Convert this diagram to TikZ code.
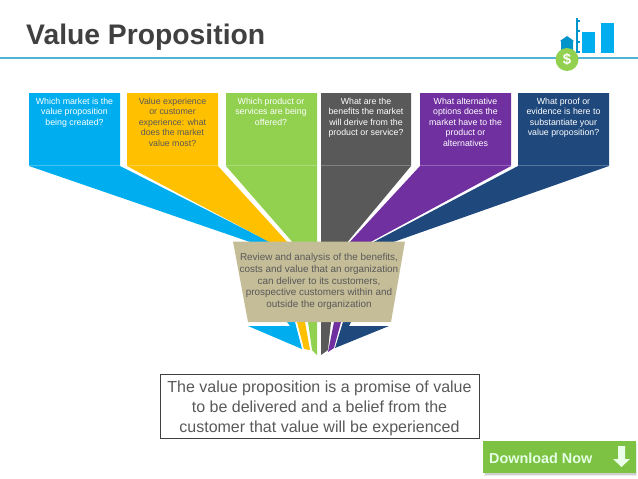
\documentclass[tikz,border=0pt]{standalone}
\usepackage{fontspec}
\setmainfont{Liberation Sans}
\definecolor{cblue}{HTML}{00AEEF}
\definecolor{corange}{HTML}{FFC000}
\definecolor{cgreen}{HTML}{92D050}
\definecolor{cgray}{HTML}{595959}
\definecolor{cpurple}{HTML}{7030A0}
\definecolor{cnavy}{HTML}{1F497D}
\definecolor{cbeige}{HTML}{C4BD97}
\definecolor{cdark}{HTML}{404040}
\definecolor{crule}{HTML}{4FB3D3}
\definecolor{cbtn}{HTML}{7DC242}
\tikzset{
  qtext/.style={anchor=north,inner sep=0pt,align=center,font=\fontsize{8.8}{10.6}\selectfont},
  ltext/.style={qtext,text=white},
  dtext/.style={qtext,text=cgray},
  seam/.style={white,opacity=0.25,line width=0.4pt}
}
\begin{document}
\begin{tikzpicture}[x=1pt,y=-1pt]
\useasboundingbox (0,0) rectangle (638,479);
% title
\node[anchor=base west,inner sep=0pt,text=cdark,font=\fontsize{28.3}{30}\selectfont\bfseries] (title) at (26,45) {Value Proposition};
\draw[crule,line width=1.2pt] (0,58) -- (638,58);
% icon
\fill[cblue] (582,32) rectangle (595,53);
\fill[cblue] (601,23) rectangle (614,53);
\draw[cblue!85!black,line width=1.1pt] (577,18) -- (577,53);
\foreach \yy in {21,31,42,52} \draw[cblue!85!black,line width=1.1pt] (577,\yy) -- (580,\yy);
\fill[cblue!85!black] (560,41) -- (567,36) -- (574,41) -- (573,41) -- (573,52) -- (561,52) -- (561,41) -- cycle;
\node[circle,fill=cgreen,minimum size=23pt,inner sep=0pt,text=white,font=\fontsize{15}{15}\selectfont\bfseries] (coin) at (567,59.5) {\$};
% top boxes with tails
\fill[cblue] (29,93) -- (120,93) -- (120,166) -- (270,242) -- (250,242) -- (29,166) -- cycle;
\fill[corange] (127,93) -- (218,93) -- (218,166) -- (290,245) -- (275,245) -- (127,166) -- cycle;
\fill[cgreen] (226,93) -- (317,93) -- (317,245) -- (295,245) -- (226,166) -- cycle;
\fill[cgray] (321,93) -- (411,93) -- (411,166) -- (345,245) -- (321,245) -- cycle;
\fill[cpurple] (420,93) -- (511,93) -- (511,166) -- (365,245) -- (347,245) -- (420,166) -- cycle;
\fill[cnavy] (518,93) -- (609,93) -- (609,166) -- (385,245) -- (368,245) -- (518,166) -- cycle;
\foreach \xa/\xb in {29/120,127/218,226/317,321/411,420/511,518/609}
  \draw[seam] (\xa,165.5) -- (\xb,165.5);
% lower tips
\fill[cblue] (248,326) -- (290,326) -- (287,322) -- (295,322) -- (302,349) -- cycle;
\fill[corange] (297,322) -- (305,322) -- (310,350) -- (304,349) -- cycle;
\fill[cgreen] (308,322) -- (317,322) -- (317,355) -- (312,350) -- cycle;
\fill[cgray] (321,322) -- (331,322) -- (328,350) -- (321,355) -- cycle;
\fill[cpurple] (334,322) -- (341,322) -- (334,348) -- (328,352) -- cycle;
\fill[cnavy] (343,322) -- (351,322) -- (349,326) -- (389,326) -- (335,348) -- cycle;
% centre funnel
\fill[cbeige] (233,241.5) -- (405,241.5) -- (391,322) -- (248,322) -- cycle;
% question texts
\node[ltext] (q1) at (74.5,97.5) {Which market is the\\value proposition\\being created?};
\node[dtext] (q2) at (172.5,97.5) {Value experience\\or customer\\experience: what\\does the market\\value most?};
\node[ltext] (q3) at (271,97.5) {Which product or\\services are being\\offered?};
\node[ltext] (q4) at (366,97.5) {What are the\\benefits the market\\will derive from the\\product or service?};
\node[ltext] (q5) at (465.5,97.5) {What alternative\\options does the\\market have to the\\product or\\alternatives};
\node[ltext] (q6) at (563.5,97.5) {What proof or\\evidence is here to\\substantiate your\\value proposition?};
\node[anchor=north,inner sep=0pt,align=center,text=cgray,font=\fontsize{9.9}{11.6}\selectfont] (review) at (319,253.5) {Review and analysis of the benefits,\\costs and value that an organization\\can deliver to its customers,\\prospective customers within and\\outside the organization};
% statement
\node[draw=cdark,line width=0.8pt,minimum width=319pt,minimum height=64pt,inner sep=0pt] (stmt) at (319.5,406) {};
\node[inner sep=0pt,align=center,text=cgray,font=\fontsize{16}{20}\selectfont] (stmttext) at (319.5,408.5) {The value proposition is a promise of value\\to be delivered and a belief from the\\customer that value will be experienced};
% download button
\fill[black,opacity=0.08] (484,443) rectangle (637,476);
\fill[black,opacity=0.12] (485,444) rectangle (636,475);
\fill[cbtn] (483,441) rectangle (636,473);
\node[anchor=base west,inner sep=0pt,text=white!90!green,font=\fontsize{14.4}{16}\selectfont\bfseries] (dl) at (489,463) {Download Now};
\fill[white!92!green] (618,446) -- (625,446) -- (625,459) -- (630,459) -- (621.5,467) -- (613,459) -- (618,459) -- cycle;
\end{tikzpicture}
\end{document}
